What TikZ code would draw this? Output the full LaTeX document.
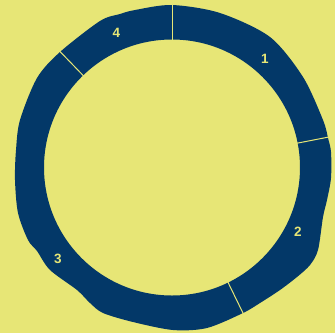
\documentclass[tikz,border=0pt]{standalone}
\usepackage{fontspec}
\setmainfont{Liberation Sans}
\usetikzlibrary{calc}
\definecolor{bgyellow}{RGB}{231,230,118}
\definecolor{ringblue}{RGB}{3,56,104}
\tikzset{
  lbl/.style={text=bgyellow, font=\fontsize{13.5}{13.5}\selectfont\bfseries, inner sep=0pt},
  divider/.style={draw=bgyellow, line width=1pt},
}
\begin{document}
\begin{tikzpicture}[x=1pt,y=-1pt]
\fill[bgyellow] (0,0) rectangle (335,333);
\useasboundingbox (0,0) rectangle (335,333);
\coordinate (c) at (172,167.5);
% ring
\fill[ringblue, even odd rule]
  plot[smooth cycle, tension=0.5] coordinates {
   (172,5) (220,13) (270,37) (303,77) (323,120) (328,138) (331,152) (331,178)
   (327,200) (323,217) (318,250) (310,265) (297,277) (280,290) (260,303)
   (243,313) (207,328) (173,330) (133,322) (103,313) (90,303) (77,290)
   (50,270) (37,251) (28,240) (18,213) (15,180) (16,150) (20,120) (37,78)
   (60,52) (100,21) (120,14) (135,10)}
  (c) circle[radius=128];
% dividers
\foreach \a/\n in {90/d1, 11/d2, -64/d3, 134/d4}{
  \coordinate (\n i) at ($(c)+({cos(\a)*127},{-sin(\a)*127})$);
  \coordinate (\n o) at ($(c)+({cos(\a)*168},{-sin(\a)*168})$);
  \draw[divider] (\n i) -- (\n o);
}
% labels
\node[lbl] (l1) at (265,58.5) {1};
\node[lbl] (l2) at (298,232) {2};
\node[lbl] (l3) at (58,258.5) {3};
\node[lbl] (l4) at (116.5,32.5) {4};
\end{tikzpicture}
\end{document}
